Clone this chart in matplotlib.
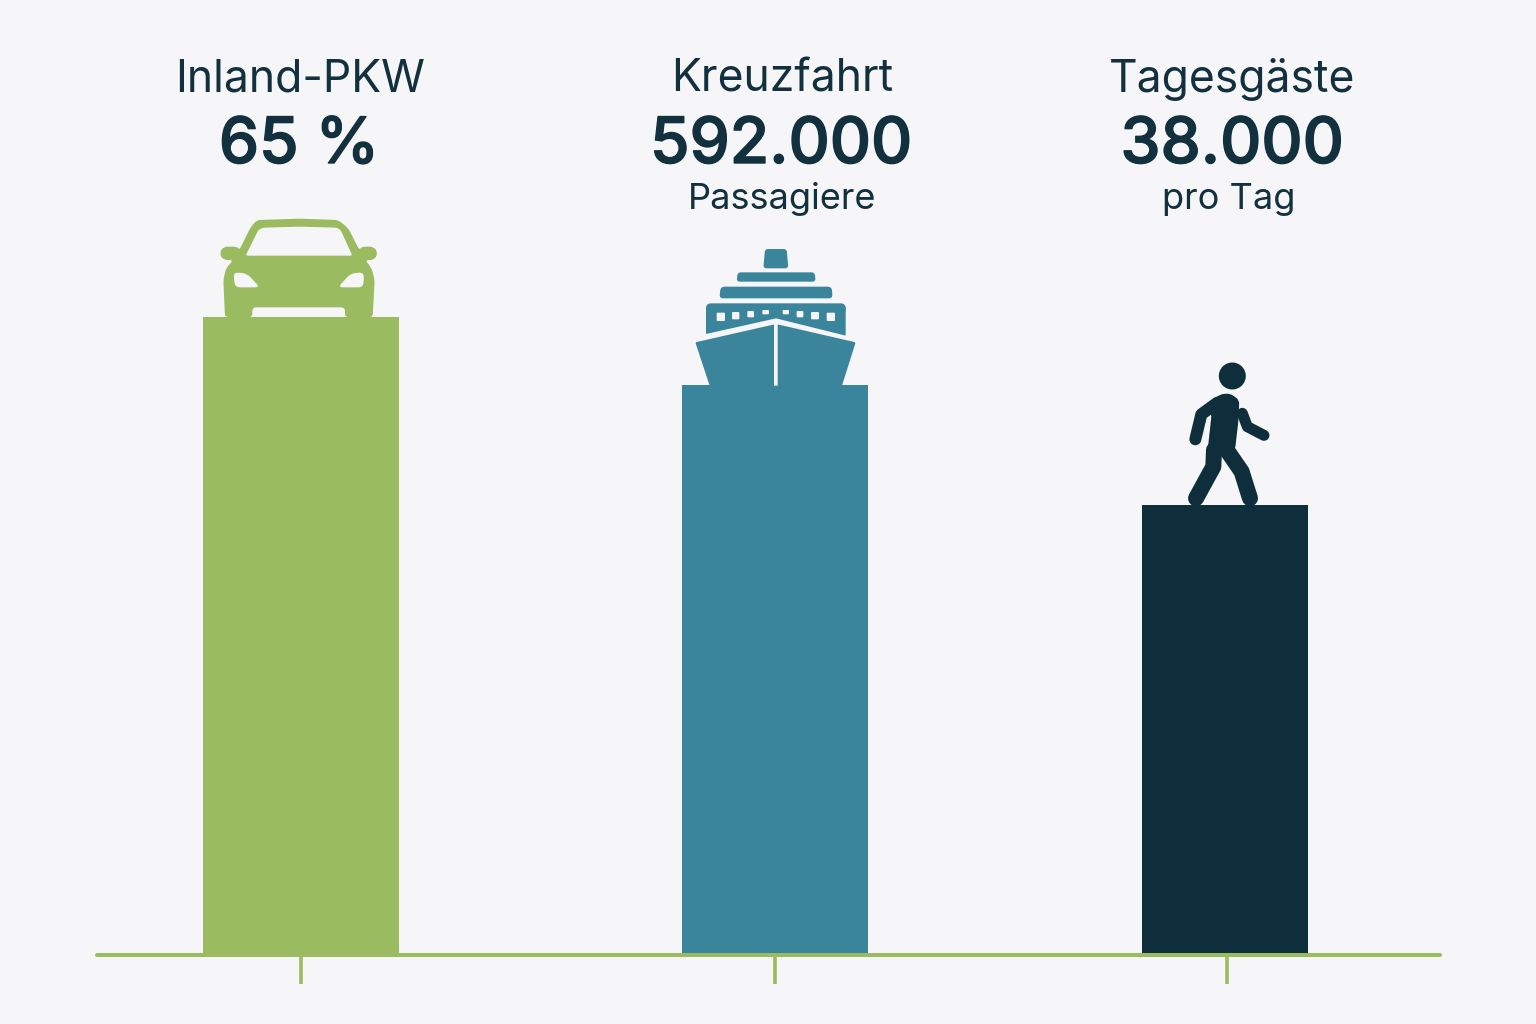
import matplotlib
matplotlib.use('Agg')
import math
import matplotlib.pyplot as plt
import matplotlib.patheffects as pe
from matplotlib.patches import PathPatch, Circle
from matplotlib.path import Path

plt.rcParams['font.family'] = ['Inter', 'DejaVu Sans']

# data (bar heights, in pixels above the baseline)
categories = ['Inland-PKW', 'Kreuzfahrt', 'Tagesgäste']
big_labels = ['65 %', '592.000', '38.000']
sub_labels = ['', 'Passagiere', 'pro Tag']
heights = [638, 570, 450]
bar_x = [301, 775, 1225]
bar_w = [196, 186, 166]
tick_x = [301, 775, 1227]
title_x = [300, 782, 1232]
big_x = [299, 781, 1232]
sub_x = [0, 782, 1229]
colors = ['#9BBB60', '#3A859C', '#0F2E3B']

BG = '#F6F6F8'
TEXT = '#12303E'
BASE = 955

fig = plt.figure(figsize=(15.36, 10.24), dpi=100, facecolor=BG)
ax = fig.add_axes([0, 0, 1, 1], facecolor=BG)
ax.set_xlim(0, 1536)
ax.set_ylim(BASE - 1024, BASE)

ax.bar(bar_x, heights, width=bar_w, color=colors, zorder=2)

# baseline and ticks
for s in ['top', 'left', 'right']:
    ax.spines[s].set_visible(False)
ax.spines['bottom'].set_position(('data', 0))
ax.spines['bottom'].set_bounds(97, 1440)
ax.spines['bottom'].set_color(colors[0])
ax.spines['bottom'].set_linewidth(2.9)
ax.spines['bottom'].set_capstyle('round')
ax.set_yticks([])
ax.set_xticks(tick_x)
ax.set_xticklabels([])
ax.tick_params(axis='x', length=21, width=2.6, color=colors[0])


# icons were measured on 3x crops, so convert crop coords to the axes
def shape(points, ox, oy, color, z=3, r=0):
    pts = [(ox + x / 3, BASE - (oy + y / 3)) for x, y in points]
    verts, codes = [], []
    n = len(pts)
    for i in range(n):
        p0, p1, p2 = pts[i - 1], pts[i], pts[(i + 1) % n]
        d0 = math.dist(p0, p1)
        d2 = math.dist(p1, p2)
        r0 = min(r, d0 / 2)
        r2 = min(r, d2 / 2)
        a = (p1[0] + (p0[0] - p1[0]) * r0 / d0, p1[1] + (p0[1] - p1[1]) * r0 / d0)
        b = (p1[0] + (p2[0] - p1[0]) * r2 / d2, p1[1] + (p2[1] - p1[1]) * r2 / d2)
        verts += [a, p1, b]
        codes += [Path.MOVETO if i == 0 else Path.LINETO, Path.CURVE3, Path.CURVE3]
    verts.append(verts[0])
    codes.append(Path.CLOSEPOLY)
    ax.add_patch(PathPatch(Path(verts, codes), fc=color, ec='none', zorder=z))


def limb(points, width, color):
    xs = [1130 + x / 3 for x, y in points]
    ys = [BASE - (350 + y / 3) for x, y in points]
    ax.plot(xs, ys, color=color, lw=width * 0.72, solid_capstyle='round', solid_joinstyle='round', zorder=3)


# car
car = [(105, 352), (100, 240), (108, 205), (130, 180), (100, 180), (88, 160), (100, 140), (142, 140),
       (148, 150), (180, 85), (200, 60), (330, 56), (445, 60), (475, 85),
       (508, 150), (515, 140), (552, 140), (564, 160), (552, 180), (525, 180), (545, 205), (554, 240),
       (548, 352), (465, 352), (465, 322), (187, 322), (187, 352)]
shape(car, 190, 200, colors[0], r=4)
shape([(167, 167), (205, 90), (220, 83), (330, 80), (440, 83), (452, 90), (487, 167)], 190, 200, BG, 4, r=2)
shape([(130, 217), (170, 220), (210, 262), (135, 262)], 190, 200, BG, 4, r=5)
shape([(522, 217), (482, 220), (444, 262), (520, 262)], 190, 200, BG, 4, r=5)

# ship
shape([(280, 85), (285, 27), (350, 27), (355, 85)], 670, 240, colors[1], r=3)
shape([(200, 125), (203, 97), (434, 97), (437, 125)], 670, 240, colors[1], r=3)
shape([(148, 175), (152, 140), (485, 140), (488, 175)], 670, 240, colors[1], r=4)
shape([(108, 282), (108, 200), (527, 200), (527, 287), (318, 235)], 670, 240, colors[1], r=1)
shape([(108, 190), (527, 190), (527, 225), (108, 225)], 670, 240, colors[1], r=5)
shape([(76, 307), (318, 252), (557, 307), (515, 440), (120, 440)], 670, 240, colors[1], r=1.5)
shape([(312, 250), (323, 250), (323, 437), (312, 437)], 670, 240, BG, 4)
windows = [(140, 218, 165, 243), (186, 216, 208, 238), (232, 213, 252, 232), (277, 210, 297, 223),
           (338, 210, 357, 223), (380, 213, 400, 232), (423, 216, 447, 238), (470, 218, 495, 243)]
for x0, y0, x1, y1 in windows:
    shape([(x0, y0), (x1, y0), (x1, y1), (x0, y1)], 670, 240, BG, 4, r=1)

# walking person
shape([(232, 310), (245, 190), (205, 185), (270, 133), (300, 130), (328, 150), (325, 215), (315, 300)],
      1130, 350, colors[2], r=4)
limb([(262, 158), (214, 193), (196, 268)], 12, colors[2])
limb([(337, 190), (352, 230), (402, 256)], 11, colors[2])
limb([(280, 285), (335, 365), (360, 445)], 16, colors[2])
limb([(252, 300), (250, 350), (198, 445)], 16, colors[2])
ax.add_patch(Circle((1232.3, BASE - 376), 13.5, fc=colors[2], ec='none', zorder=3))

# labels
for i in range(3):
    ax.text(title_x[i], BASE - 92, categories[i], ha='center', va='baseline', fontsize=32, color=TEXT)
    ax.text(big_x[i], BASE - 163, big_labels[i], ha='center', va='baseline', fontsize=46, color=TEXT, fontweight='medium',
            path_effects=[pe.withStroke(linewidth=1.0, foreground=TEXT)])
    if sub_labels[i]:
        ax.text(sub_x[i], BASE - 209, sub_labels[i], ha='center', va='baseline', fontsize=26, color=TEXT)

fig.savefig('out.png', dpi=100, facecolor=BG)
